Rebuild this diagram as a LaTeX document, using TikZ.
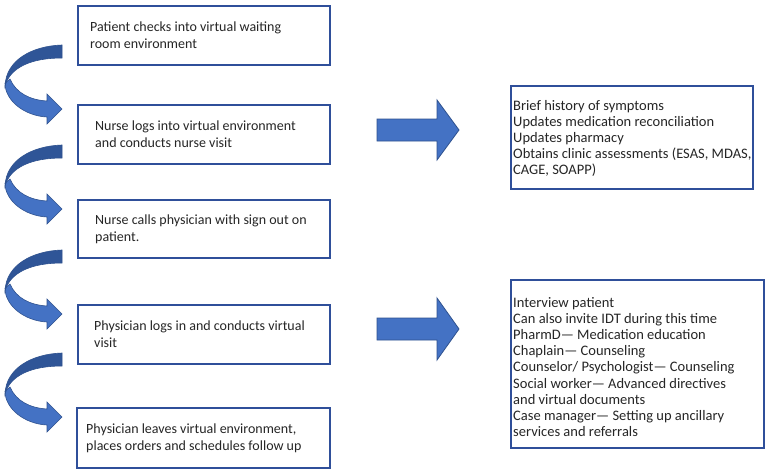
\documentclass[tikz,border=0pt]{standalone}
\usepackage{fontspec}
\setmainfont{Carlito}
\definecolor{boxblue}{HTML}{2F4F9A}
\definecolor{arrlight}{HTML}{4472C4}
\definecolor{arrdark}{HTML}{2F5597}
\definecolor{arredge}{HTML}{2F528F}
\definecolor{txtc}{HTML}{262626}
\begin{document}
\begin{tikzpicture}[x=1pt,y=-1pt,
  box/.style={draw=boxblue,line width=1.8pt,fill=white,anchor=north west,inner sep=0pt},
  txt/.style={anchor=west,align=left,inner sep=0pt,text=txtc,font=\fontsize{14}{17}\selectfont},
  rtxt/.style={anchor=west,align=left,inner sep=0pt,text=txtc,font=\fontsize{14.5}{16.2}\selectfont},
  blockarrow/.style={fill=arrlight,draw=arredge,line width=0.8pt},
  curvedark/.style={fill=arrdark,draw=arredge,line width=0.6pt},
  curvelight/.style={fill=arrlight,draw=arredge,line width=0.6pt}]
\useasboundingbox (0,0) rectangle (768,471);
\fill[white] (0,0) rectangle (768,471);

% left boxes
\node[box,minimum width=252pt,minimum height=59pt] (b1) at (77,5) {};
\node[box,minimum width=252pt,minimum height=59pt] (b2) at (77,104) {};
\node[box,minimum width=252pt,minimum height=58pt] (b3) at (77,199) {};
\node[box,minimum width=252pt,minimum height=59pt] (b4) at (77,304) {};
\node[box,minimum width=253pt,minimum height=60pt] (b5) at (76,407) {};

\node[txt] (t1) at ([xshift=13pt]b1.west) {Patient checks into virtual waiting\\room environment};
\node[txt] (t2) at ([xshift=18pt]b2.west) {Nurse logs into virtual environment\\and conducts nurse visit};
\node[txt] (t3) at ([xshift=18pt]b3.west) {Nurse calls physician with sign out on\\patient.};
\node[txt] (t4) at ([xshift=17pt]b4.west) {Physician logs in and conducts virtual\\visit};
\node[txt] (t5) at ([xshift=10pt]b5.west) {Physician leaves virtual environment,\\places orders and schedules follow up};

% right boxes
\node[box,minimum width=242pt,minimum height=103pt] (r1) at (510,85) {};
\node[box,minimum width=253pt,minimum height=168pt] (r2) at (510,279) {};

\node[rtxt] (rt1) at ([xshift=3pt,yshift=-1pt]r1.west) {Brief history of symptoms\\Updates medication reconciliation\\Updates pharmacy\\Obtains clinic assessments (ESAS, MDAS,\\CAGE, SOAPP)};
\node[rtxt] (rt2) at ([xshift=3pt,yshift=-3pt]r2.west) {Interview patient\\Can also invite IDT during this time\\PharmD--- Medication education\\Chaplain--- Counseling\\Counselor/ Psychologist--- Counseling\\Social worker--- Advanced directives\\and virtual documents\\Case manager--- Setting up ancillary\\services and referrals};

% block arrows
\draw[blockarrow] (377,119) -- (437,119) -- (437,100) -- (459,130) -- (437,160) -- (437,141) -- (377,141) -- cycle;
\draw[blockarrow] (377,318) -- (437,318) -- (437,298) -- (459,329) -- (437,360) -- (437,340) -- (377,340) -- cycle;

% curved arrows
\foreach \dy in {0,100,205,308}{
\begin{scope}[shift={(0,\dy)}]
  \draw[curvelight] (5,83) .. controls (5,101) and (25,116) .. (47,117) -- (47,124) -- (62,109) -- (47,94) -- (47,101) .. controls (30,100) and (16,93) .. (10,79) -- cycle;
  \draw[curvedark] (62,45) .. controls (32,46) and (6,60) .. (5,86) .. controls (10,68) and (30,58) .. (62,58) -- cycle;
\end{scope}}
\end{tikzpicture}
\end{document}
